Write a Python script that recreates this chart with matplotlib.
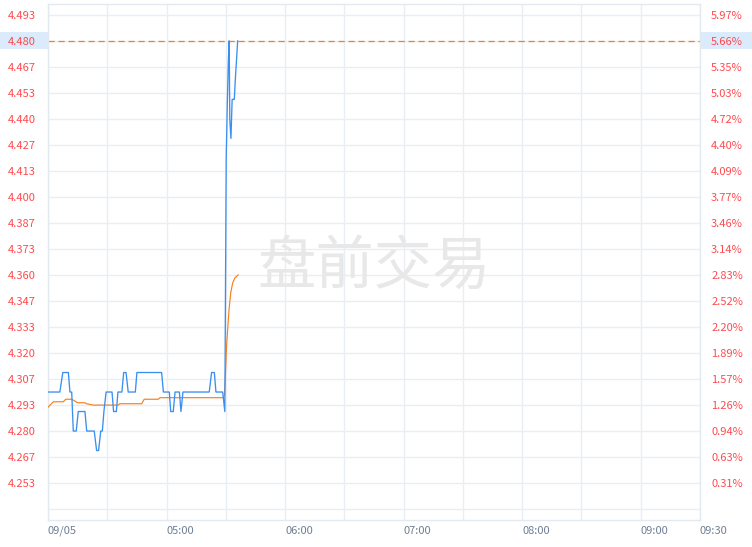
import matplotlib
matplotlib.use("Agg")
import matplotlib.pyplot as plt
from matplotlib.patches import Rectangle
import matplotlib.transforms as mtransforms

plt.rcParams['font.family'] = ['Noto Sans CJK SC', 'DejaVu Sans']

# ---- data (minutes since 04:00) ----
price_t = [0, 6, 7.5, 10.3, 11.1, 12, 12.8, 14.3, 15.3, 18.7, 19.6, 23.4, 24.6, 25.6,
           26.7, 27.5, 28.3, 29.4, 32.4, 33.2, 34.6, 35.4, 37.4, 38.3, 39.5, 40.6,
           44.2, 45, 57.5, 58.4, 61.4, 62.1, 63.4, 64.3, 66.5, 67.3, 68.3, 81.6,
           82.8, 84.2, 85, 88.4, 89.5, 90.2, 90.8, 91.3, 91.7, 92.0, 92.6, 93.2,
           94.3, 94.8, 95.4, 96.0]
price_v = [4.30, 4.30, 4.31, 4.31, 4.30, 4.30, 4.28, 4.28, 4.29, 4.29, 4.28, 4.28, 4.27, 4.27,
           4.28, 4.28, 4.29, 4.30, 4.30, 4.29, 4.29, 4.30, 4.30, 4.31, 4.31, 4.30,
           4.30, 4.31, 4.31, 4.30, 4.30, 4.29, 4.29, 4.30, 4.30, 4.29, 4.30, 4.30,
           4.31, 4.31, 4.30, 4.30, 4.29, 4.42, 4.45, 4.47, 4.48, 4.44, 4.43, 4.45,
           4.45, 4.46, 4.47, 4.48]

avg_t = [0, 2.7, 7.7, 9.0, 12.0, 15.0, 18.7, 19.5, 23.0, 35.5, 36.4, 47.4, 48.7, 55.8,
         56.7, 88.6, 89.3, 89.8, 90.4, 91.0, 91.6, 92.5, 93.5, 94.6, 96.2]
avg_v = [4.2922, 4.2950, 4.2950, 4.2963, 4.2963, 4.2945, 4.2945, 4.2940, 4.2933, 4.2933,
         4.2940, 4.2940, 4.2963, 4.2963, 4.2971, 4.2971, 4.2985, 4.3090, 4.3240, 4.3330,
         4.3420, 4.3510, 4.3560, 4.3585, 4.3600]

high_price = 4.48
prev_close = 4.24

x_tick_t = [0, 60, 120, 180, 240, 300, 330]
x_tick_labels = ["09/05", "05:00", "06:00", "07:00", "08:00", "09:00", "09:30"]
x_grid_t = [30, 90, 150, 210, 270]

y_tick_v = [4.24, 4.25333, 4.26667, 4.28, 4.29333, 4.30667, 4.32, 4.33333, 4.34667, 4.36,
            4.37333, 4.38667, 4.40, 4.41333, 4.42667, 4.44, 4.45333, 4.46667, 4.48, 4.49333]
y_left_labels = ["", "4.253", "4.267", "4.280", "4.293", "4.307", "4.320", "4.333", "4.347",
                 "4.360", "4.373", "4.387", "4.400", "4.413", "4.427", "4.440", "4.453",
                 "4.467", "4.480", "4.493"]
y_right_labels = ["", "0.31%", "0.63%", "0.94%", "1.26%", "1.57%", "1.89%", "2.20%", "2.52%",
                  "2.83%", "3.14%", "3.46%", "3.77%", "4.09%", "4.40%", "4.72%", "5.03%",
                  "5.35%", "5.66%", "5.97%"]

# ---- styles ----
W, H, DPI = 752, 547, 100
grid_c = '#e9eef4'
red = '#ff4a4f'
xlab_c = '#6f7f95'
blue = '#3b8ff0'
orange = '#f5801f'
fs = 8

fig = plt.figure(figsize=(W / DPI, H / DPI), dpi=DPI)
fig.patch.set_facecolor('white')
ax = fig.add_axes([48 / W, (H - 520) / H, (700 - 48) / W, (520 - 4) / H])
ax.set_xlim(0, 330)
ax.set_ylim(4.2344, 4.4989)

for s in ax.spines.values():
    s.set_color('#e3e9f0')
    s.set_linewidth(1.0)

ax.set_xticks(x_tick_t)
ax.set_xticklabels(x_tick_labels, ha='left', color=xlab_c, fontsize=fs)
ax.set_xticks(x_grid_t, minor=True)
ax.tick_params(axis='x', which='both', length=0, pad=4)
ax.set_yticks(y_tick_v)
ax.set_yticklabels(y_left_labels, color=red, fontsize=fs)
ax.tick_params(axis='y', length=0, pad=9)
ax.grid(True, which='both', color=grid_c, linewidth=1.0, zorder=0)
ax.set_axisbelow(True)

ax2 = ax.twinx()
ax2.set_ylim(ax.get_ylim())
ax2.set_yticks(y_tick_v)
ax2.set_yticklabels(y_right_labels, color=red, fontsize=fs)
ax2.tick_params(axis='y', length=0, pad=8)
for s in ax2.spines.values():
    s.set_visible(False)

# watermark
ax.text(0.5, 0.49, "盘前交易", transform=ax.transAxes, ha='center', va='center',
        fontsize=42, color='#e8e8e8', zorder=1)

# high-price dashed line
ax.axhline(high_price, color=orange, linestyle=(0, (5, 3)), linewidth=0.9, zorder=2)

# highlight boxes behind the 4.480 labels
d = (y_tick_v[1] - y_tick_v[0]) * 0.33
tr = mtransforms.blended_transform_factory(fig.transFigure, ax.transData)
fig.add_artist(Rectangle((0, high_price - d), 48 / W, 2 * d, transform=tr,
                         facecolor='#dcebfc', edgecolor='none', zorder=-1))
fig.add_artist(Rectangle((700 / W, high_price - d), 1 - 700 / W, 2 * d, transform=tr,
                         facecolor='#dcebfc', edgecolor='none', zorder=-1))

ax.plot(avg_t, avg_v, color=orange, linewidth=0.85, zorder=3)
ax.plot(price_t, price_v, color=blue, linewidth=0.95, zorder=4)

fig.savefig('out.png', dpi=DPI)
